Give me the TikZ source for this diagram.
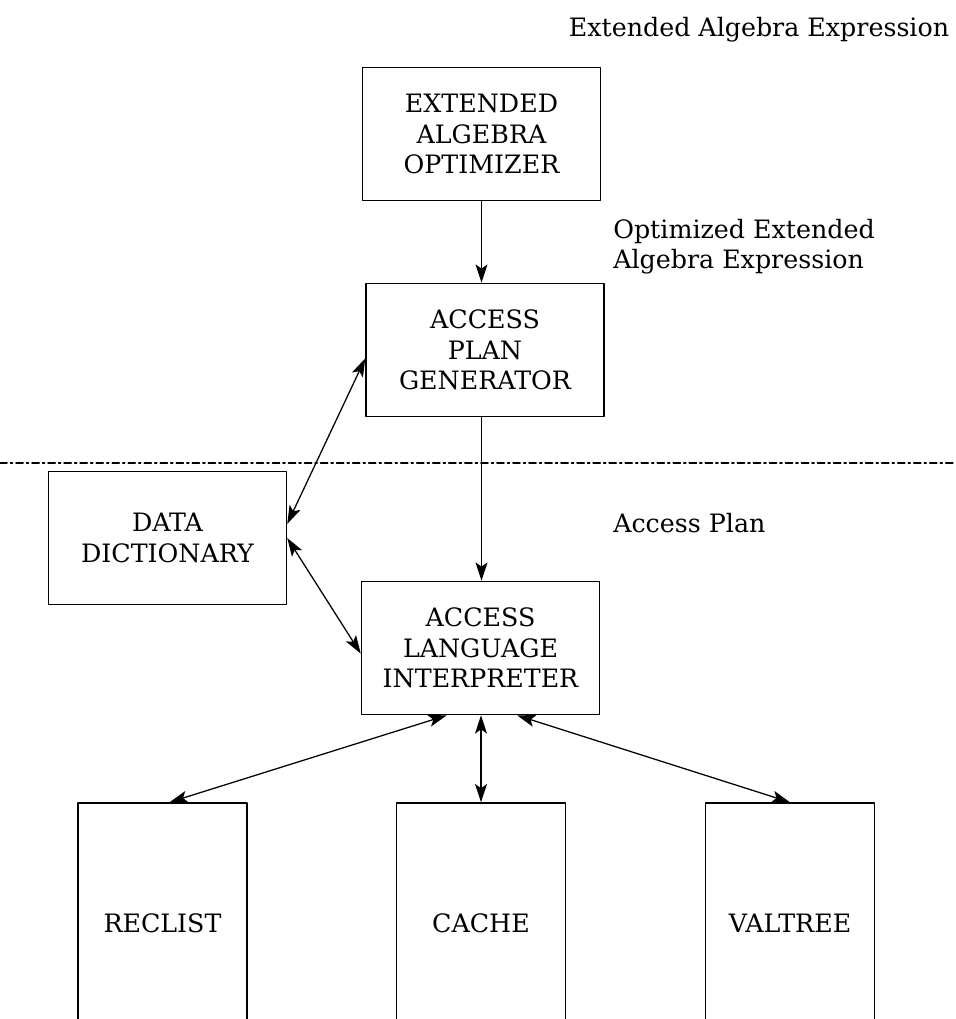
\documentclass[tikz,border=0pt]{standalone}
\usepackage{fontspec}
\setmainfont{DejaVu Serif}
\usetikzlibrary{arrows.meta}

\tikzset{
    block/.style={draw, line width=1pt, align=center, inner sep=0pt,
        minimum width=5.95cm, minimum height=3.33cm},
    store/.style={draw, line width=1pt, align=center, inner sep=0pt,
        minimum width=4.22cm, minimum height=6cm},
    flowlabel/.style={align=left, inner sep=0pt},
    conn/.style={line width=0.9pt},
    >={Stealth[length=13pt,width=8.5pt,inset=3pt]}
}

\begin{document}
\begin{tikzpicture}[line cap=round,line join=round,x=0.025cm,y=-0.025cm,
    font=\fontsize{18}{21.5}\selectfont]

    \useasboundingbox (0,0) rectangle (955,1019);
    \clip (0,0) rectangle (955,1019);

    % Boxes
    \node[block] (opt) at (481.5,134) {EXTENDED\\ALGEBRA\\OPTIMIZER};
    \node[block] (apg) at (485,350) {ACCESS\\PLAN\\GENERATOR};
    \node[block] (dd) at (167.5,538) {DATA\\DICTIONARY};
    \node[block] (ali) at (480.5,648) {ACCESS\\LANGUAGE\\INTERPRETER};

    \node[store] (reclist) at (162.5,923) {RECLIST};
    \node[store] (cache) at (481,923) {CACHE};
    \node[store] (valtree) at (790,923) {VALTREE};

    % Labels
    \node[flowlabel] (inexpr) at (759,30) {Extended Algebra Expression};
    \node[flowlabel, anchor=west] (optexpr) at (613,247) {Optimized Extended\\Algebra Expression};
    \node[flowlabel, anchor=west] (plan) at (613,523) {Access Plan};

    % Level boundary
    \draw[line width=1.2pt, dash pattern=on 5pt off 2.5pt on 1.4pt off 2.5pt] (0,463) -- (955,463);

    % Main flow
    \draw[conn,->] (opt.south) -- (opt.south |- apg.north);
    \draw[conn,->] (apg.south -| opt) -- (ali.north -| opt);
    % Dictionary lookups
    \draw[conn,<->] ([yshift=-6pt]apg.west) -- ([yshift=10pt]dd.east);
    \draw[conn,<->] (dd.east) -- ([yshift=-4pt]ali.west);
    % Storage structures
    \draw[conn,<->] ([xshift=-24pt]ali.south) -- ([xshift=5pt]reclist.north);
    \draw[conn,<->] (ali.south -| cache) -- (cache.north);
    \draw[conn,<->] ([xshift=26pt]ali.south) -- (valtree.north);
\end{tikzpicture}
\end{document}
